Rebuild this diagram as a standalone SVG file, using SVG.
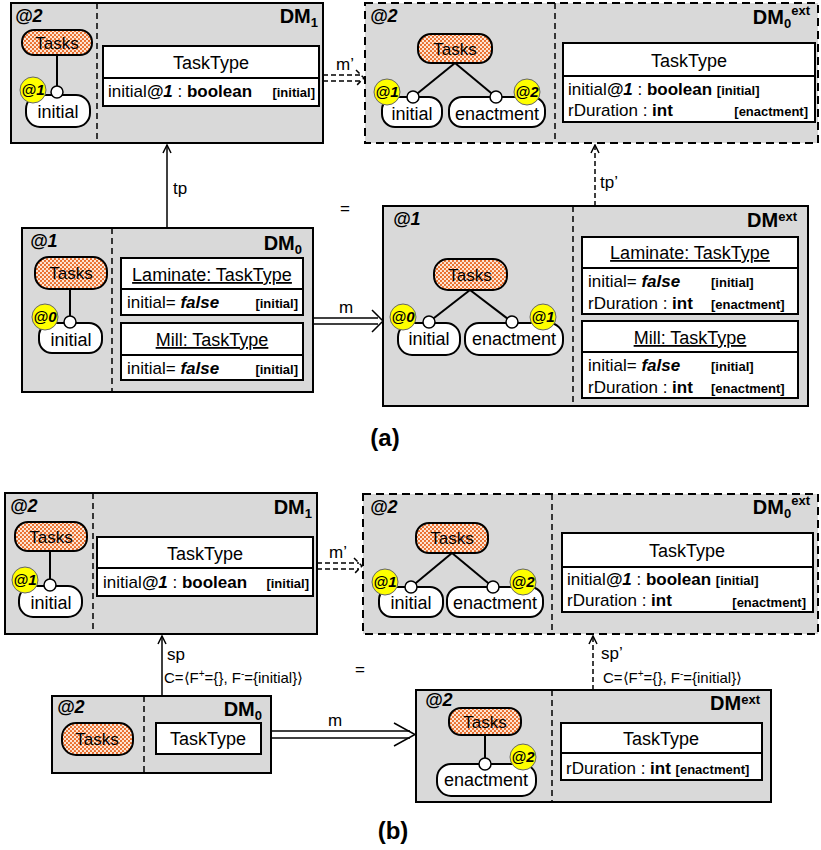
<svg xmlns="http://www.w3.org/2000/svg" width="821" height="850" viewBox="0 0 821 850">
<defs>
<pattern id="dots" width="4" height="4" patternUnits="userSpaceOnUse">
<rect width="4" height="4" fill="#fde6d6"/>
<circle cx="1" cy="1" r="1.1" fill="#e8641e"/>
<circle cx="3" cy="3" r="1.1" fill="#e8641e"/>
</pattern>
<marker id="arr" viewBox="0 0 10 10" refX="9" refY="5" markerWidth="10" markerHeight="10" markerUnits="userSpaceOnUse" orient="auto">
<path d="M1,1 L9,5 L1,9" fill="none" stroke="#000" stroke-width="1.5"/>
</marker>
<style>
.box{fill:#d9d9d9;stroke:#000;stroke-width:2}
.dbox{fill:#d9d9d9;stroke:#000;stroke-width:2;stroke-dasharray:8 5}
.div{stroke:#000;stroke-width:1.5;stroke-dasharray:6 4;fill:none}
.cls{fill:#fff;stroke:#000;stroke-width:2}
.ln{stroke:#000;stroke-width:2;fill:none}
.tasks{fill:url(#dots);stroke:#000;stroke-width:2}
.pill{fill:#fff;stroke:#000;stroke-width:2}
.port{fill:#fff;stroke:#000;stroke-width:1.5}
.ann{fill:#ffff00;stroke:#666;stroke-width:1}
.edge{stroke:#000;stroke-width:2;fill:none}
.conn{stroke:#000;stroke-width:1.5;fill:none}
.dconn{stroke:#000;stroke-width:1.5;fill:none;stroke-dasharray:5 3}
text{font-family:"Liberation Sans",Arial,sans-serif;fill:#000}
.lvl{font-size:18px;font-weight:bold;font-style:italic}
.dm{font-size:20px;font-weight:bold}
.tk{font-size:17px;text-anchor:middle}
.nd{font-size:18px;text-anchor:middle}
.ct{font-size:18px;text-anchor:middle}
.at{font-size:17px}
.tag{font-size:13px;font-weight:bold}
.an{font-size:15px;font-weight:bold;font-style:italic;text-anchor:middle}
.lb{font-size:17px}
.cl{font-size:15px}
.cap{font-size:24px;font-weight:bold;text-anchor:middle}
</style>
</defs>

<!-- ================= Panel (a) ================= -->
<g id="a-DM1">
<rect class="box" x="11" y="3" width="312" height="140"/>
<line class="div" x1="97" y1="3" x2="97" y2="143"/>
<text class="lvl" x="15" y="22">@2</text>
<text class="dm" x="318" y="23" text-anchor="end">DM<tspan font-size="13" dy="4">1</tspan></text>
<g id="a-DM1-tasks"><rect class="tasks" x="22" y="30" width="70" height="25" rx="12"/><text class="tk" x="57" y="49">Tasks</text></g>
<g id="a-DM1-initial"><rect class="pill" x="26" y="95" width="64" height="32" rx="14"/><text class="nd" x="58" y="118">initial</text><circle class="port" cx="57" cy="92" r="6"/><circle class="ann" cx="33" cy="90" r="13"/><text class="an" x="33" y="95">@1</text></g>
<g id="a-DM1-TaskType"><rect class="cls" x="103" y="46" width="216" height="60"/><line class="ln" x1="103" y1="78" x2="319" y2="78"/>
<text class="ct" x="211" y="69">TaskType</text>
<text class="at" x="108" y="97">initial<tspan font-weight="bold" font-style="italic">@1</tspan>  : <tspan font-weight="bold">boolean</tspan></text>
<text class="tag" x="315" y="97" text-anchor="end">[initial]</text></g>
</g>

<g id="a-DM0ext">
<rect class="dbox" x="365" y="3" width="453" height="140"/>
<line class="div" x1="555" y1="3" x2="555" y2="143"/>
<text class="lvl" x="370" y="22">@2</text>
<text class="dm" x="810" y="24" text-anchor="end">DM<tspan font-size="13" dy="4">0</tspan><tspan font-size="13" dy="-13">ext</tspan></text>
<g id="a-DM0ext-tasks"><rect class="tasks" x="418" y="34" width="74" height="29" rx="13"/><text class="tk" x="455" y="55">Tasks</text></g>
<g id="a-DM0ext-initial"><rect class="pill" x="382" y="97" width="60" height="30" rx="13"/><text class="nd" x="412" y="120">initial</text><circle class="port" cx="413" cy="97" r="6"/><circle class="ann" cx="387" cy="92" r="13"/><text class="an" x="387" y="97">@1</text></g>
<g id="a-DM0ext-enactment"><rect class="pill" x="449" y="97" width="96" height="30" rx="13"/><text class="nd" x="497" y="120">enactment</text><circle class="port" cx="496" cy="97" r="6"/><circle class="ann" cx="527" cy="92" r="13"/><text class="an" x="527" y="97">@2</text></g>
<g id="a-DM0ext-TaskType"><rect class="cls" x="563" y="43" width="252" height="79"/><line class="ln" x1="563" y1="76" x2="815" y2="76"/>
<text class="ct" x="689" y="67">TaskType</text>
<text class="at" x="568" y="95">initial<tspan font-weight="bold" font-style="italic">@1</tspan>  : <tspan font-weight="bold">boolean</tspan> <tspan class="tag">[initial]</tspan></text>
<text class="at" x="568" y="116">rDuration : <tspan font-weight="bold">int</tspan></text>
<text class="tag" x="808" y="116" text-anchor="end">[enactment]</text></g>
</g>

<g id="a-DM0">
<rect class="box" x="22" y="228" width="291" height="164"/>
<line class="div" x1="112" y1="228" x2="112" y2="392"/>
<text class="lvl" x="30" y="247">@1</text>
<text class="dm" x="302" y="250" text-anchor="end">DM<tspan font-size="13" dy="4">0</tspan></text>
<g id="a-DM0-tasks"><rect class="tasks" x="35" y="257" width="72" height="32" rx="14"/><text class="tk" x="71" y="279">Tasks</text></g>
<g id="a-DM0-initial"><rect class="pill" x="39" y="323" width="63" height="30" rx="13"/><text class="nd" x="71" y="346">initial</text><circle class="port" cx="70" cy="322" r="6"/><circle class="ann" cx="45" cy="317" r="13"/><text class="an" x="45" y="322">@0</text></g>
<g id="a-DM0-Laminate"><rect class="cls" x="121" y="258" width="182" height="57"/><line class="ln" x1="121" y1="289" x2="303" y2="289"/>
<text class="ct" x="212" y="281" text-decoration="underline">Laminate: TaskType</text>
<text class="at" x="127" y="308">initial= <tspan font-weight="bold" font-style="italic">false</tspan></text>
<text class="tag" x="298" y="308" text-anchor="end">[initial]</text></g>
<g id="a-DM0-Mill"><rect class="cls" x="121" y="323" width="182" height="57"/><line class="ln" x1="121" y1="355" x2="303" y2="355"/>
<text class="ct" x="212" y="346" text-decoration="underline">Mill: TaskType</text>
<text class="at" x="127" y="374">initial= <tspan font-weight="bold" font-style="italic">false</tspan></text>
<text class="tag" x="298" y="374" text-anchor="end">[initial]</text></g>
</g>

<g id="a-DMext">
<rect class="box" x="383" y="206" width="425" height="200"/>
<line class="div" x1="573" y1="206" x2="573" y2="406"/>
<text class="lvl" x="393" y="225">@1</text>
<text class="dm" x="797" y="227" text-anchor="end">DM<tspan font-size="13" dy="-6">ext</tspan></text>
<g id="a-DMext-tasks"><rect class="tasks" x="434" y="259" width="73" height="31" rx="14"/><text class="tk" x="470" y="281">Tasks</text></g>
<g id="a-DMext-initial"><rect class="pill" x="398" y="323" width="62" height="32" rx="14"/><text class="nd" x="429" y="345">initial</text><circle class="port" cx="429" cy="322" r="6"/><circle class="ann" cx="403" cy="317" r="13"/><text class="an" x="403" y="322">@0</text></g>
<g id="a-DMext-enactment"><rect class="pill" x="465" y="323" width="98" height="32" rx="14"/><text class="nd" x="514" y="345">enactment</text><circle class="port" cx="512" cy="322" r="6"/><circle class="ann" cx="543" cy="317" r="13"/><text class="an" x="543" y="322">@1</text></g>
<g id="a-DMext-Laminate"><rect class="cls" x="582" y="237" width="216" height="77"/><line class="ln" x1="582" y1="268" x2="798" y2="268"/>
<text class="ct" x="690" y="259" text-decoration="underline">Laminate: TaskType</text>
<text class="at" x="588" y="287">initial= <tspan font-weight="bold" font-style="italic">false</tspan></text>
<text class="tag" x="711" y="287">[initial]</text>
<text class="at" x="588" y="309">rDuration : <tspan font-weight="bold">int</tspan></text>
<text class="tag" x="711" y="309">[enactment]</text></g>
<g id="a-DMext-Mill"><rect class="cls" x="582" y="321" width="216" height="77"/><line class="ln" x1="582" y1="352" x2="798" y2="352"/>
<text class="ct" x="690" y="344" text-decoration="underline">Mill: TaskType</text>
<text class="at" x="588" y="371">initial= <tspan font-weight="bold" font-style="italic">false</tspan></text>
<text class="tag" x="711" y="371">[initial]</text>
<text class="at" x="588" y="393">rDuration : <tspan font-weight="bold">int</tspan></text>
<text class="tag" x="711" y="393">[enactment]</text></g>
</g>

<text class="cap" x="385" y="446">(a)</text>

<!-- ================= Panel (b) ================= -->
<g id="b-DM1">
<rect class="box" x="5" y="493" width="312" height="141"/>
<line class="div" x1="93" y1="493" x2="93" y2="634"/>
<text class="lvl" x="10" y="512">@2</text>
<text class="dm" x="312" y="514" text-anchor="end">DM<tspan font-size="13" dy="4">1</tspan></text>
<g id="b-DM1-tasks"><rect class="tasks" x="15" y="522" width="72" height="29" rx="13"/><text class="tk" x="51" y="543">Tasks</text></g>
<g id="b-DM1-initial"><rect class="pill" x="19" y="586" width="63" height="31" rx="14"/><text class="nd" x="51" y="609">initial</text><circle class="port" cx="50" cy="585" r="6"/><circle class="ann" cx="25" cy="580" r="13"/><text class="an" x="25" y="585">@1</text></g>
<g id="b-DM1-TaskType"><rect class="cls" x="97" y="537" width="216" height="59"/><line class="ln" x1="97" y1="568" x2="313" y2="568"/>
<text class="ct" x="205" y="560">TaskType</text>
<text class="at" x="103" y="588">initial<tspan font-weight="bold" font-style="italic">@1</tspan>  : <tspan font-weight="bold">boolean</tspan></text>
<text class="tag" x="309" y="588" text-anchor="end">[initial]</text></g>
</g>

<g id="b-DM0ext">
<rect class="dbox" x="363" y="494" width="455" height="140"/>
<line class="div" x1="552" y1="494" x2="552" y2="634"/>
<text class="lvl" x="370" y="513">@2</text>
<text class="dm" x="810" y="514" text-anchor="end">DM<tspan font-size="13" dy="4">0</tspan><tspan font-size="13" dy="-13">ext</tspan></text>
<g id="b-DM0ext-tasks"><rect class="tasks" x="416" y="523" width="72" height="30" rx="13"/><text class="tk" x="452" y="544">Tasks</text></g>
<g id="b-DM0ext-initial"><rect class="pill" x="379" y="587" width="64" height="30" rx="13"/><text class="nd" x="411" y="609">initial</text><circle class="port" cx="411" cy="587" r="6"/><circle class="ann" cx="385" cy="582" r="13"/><text class="an" x="385" y="587">@1</text></g>
<g id="b-DM0ext-enactment"><rect class="pill" x="447" y="587" width="96" height="30" rx="13"/><text class="nd" x="495" y="609">enactment</text><circle class="port" cx="493" cy="587" r="6"/><circle class="ann" cx="523" cy="582" r="13"/><text class="an" x="523" y="587">@2</text></g>
<g id="b-DM0ext-TaskType"><rect class="cls" x="562" y="533" width="251" height="79"/><line class="ln" x1="562" y1="567" x2="813" y2="567"/>
<text class="ct" x="687" y="557">TaskType</text>
<text class="at" x="567" y="585">initial<tspan font-weight="bold" font-style="italic">@1</tspan>  : <tspan font-weight="bold">boolean</tspan> <tspan class="tag">[initial]</tspan></text>
<text class="at" x="567" y="606">rDuration : <tspan font-weight="bold">int</tspan></text>
<text class="tag" x="806" y="607" text-anchor="end">[enactment]</text></g>
</g>

<g id="b-DM0">
<rect class="box" x="52" y="696" width="219" height="77"/>
<line class="div" x1="144" y1="696" x2="144" y2="773"/>
<text class="lvl" x="57" y="713">@2</text>
<text class="dm" x="262" y="716" text-anchor="end">DM<tspan font-size="13" dy="4">0</tspan></text>
<g id="b-DM0-tasks"><rect class="tasks" x="62" y="723" width="71" height="32" rx="14"/><text class="tk" x="97" y="745">Tasks</text></g>
<g id="b-DM0-TaskType"><rect class="cls" x="156" y="723" width="105" height="31"/><text class="ct" x="208" y="745">TaskType</text></g>
</g>

<g id="b-DMext">
<rect class="box" x="416" y="690" width="355" height="112"/>
<line class="div" x1="552" y1="690" x2="552" y2="802"/>
<text class="lvl" x="425" y="706">@2</text>
<text class="dm" x="760" y="710" text-anchor="end">DM<tspan font-size="13" dy="-6">ext</tspan></text>
<g id="b-DMext-tasks"><rect class="tasks" x="449" y="708" width="72" height="27" rx="12"/><text class="tk" x="485" y="728">Tasks</text></g>
<g id="b-DMext-enactment"><rect class="pill" x="437" y="764" width="99" height="32" rx="14"/><text class="nd" x="486" y="786">enactment</text><circle class="port" cx="485" cy="764" r="6"/><circle class="ann" cx="523" cy="757" r="13"/><text class="an" x="523" y="762">@2</text></g>
<g id="b-DMext-TaskType"><rect class="cls" x="561" y="723" width="201" height="57"/><line class="ln" x1="561" y1="753" x2="762" y2="753"/>
<text class="ct" x="661" y="745">TaskType</text>
<text class="at" x="566" y="774">rDuration : <tspan font-weight="bold">int</tspan> <tspan class="tag">[enactment]</tspan></text></g>
</g>

<text class="cap" x="393" y="839">(b)</text>

<!-- ================= Connectors ================= -->
<g id="connectors">
<!-- inner edges (a) -->
<line class="edge" x1="57" y1="55" x2="57" y2="86"/>
<line class="edge" x1="455" y1="63" x2="417.7" y2="93.2"/>
<line class="edge" x1="455" y1="63" x2="491.4" y2="93.2"/>
<line class="edge" x1="70" y1="289" x2="70" y2="316"/>
<line class="edge" x1="470" y1="290" x2="433.7" y2="318.3"/>
<line class="edge" x1="470" y1="290" x2="507.2" y2="318.4"/>
<!-- inner edges (b) -->
<line class="edge" x1="50" y1="551" x2="50" y2="579"/>
<line class="edge" x1="452" y1="553" x2="415.6" y2="583.2"/>
<line class="edge" x1="452" y1="553" x2="488.4" y2="583.2"/>
<line class="edge" x1="485" y1="735" x2="485" y2="758"/>

<!-- (a) tp -->
<line class="conn" x1="167" y1="228" x2="167" y2="145" marker-end="url(#arr)"/>
<text class="lb" x="173" y="194">tp</text>
<!-- (a) tp' -->
<line class="dconn" x1="595" y1="206" x2="595" y2="145" marker-end="url(#arr)"/>
<text class="lb" x="600" y="188">tp’</text>
<!-- (a) m -->
<line class="conn" x1="313" y1="318" x2="378" y2="318"/>
<line class="conn" x1="313" y1="324" x2="378" y2="324"/>
<polyline class="conn" points="372,310 383,321 372,332"/>
<text class="lb" x="346" y="313" text-anchor="middle">m</text>
<!-- (a) m' -->
<line class="dconn" x1="323" y1="75" x2="361" y2="75"/>
<line class="dconn" x1="323" y1="81" x2="361" y2="81"/>
<polyline class="dconn" points="356,70 364,78 356,86"/>
<text class="lb" x="345" y="70" text-anchor="middle">m’</text>
<text class="lb" x="345" y="214" text-anchor="middle">=</text>

<!-- (b) sp -->
<line class="conn" x1="162" y1="696" x2="162" y2="636" marker-end="url(#arr)"/>
<text class="lb" x="167" y="660">sp</text>
<text class="cl" x="164" y="683">C=⟨F<tspan font-size="10" dy="-6">+</tspan><tspan dy="6">={}, F</tspan><tspan font-size="10" dy="-6">-</tspan><tspan dy="6">={initial}⟩</tspan></text>
<!-- (b) sp' -->
<line class="dconn" x1="593" y1="690" x2="593" y2="636" marker-end="url(#arr)"/>
<text class="lb" x="601" y="659">sp’</text>
<text class="cl" x="603" y="683">C=⟨F<tspan font-size="10" dy="-6">+</tspan><tspan dy="6">={}, F</tspan><tspan font-size="10" dy="-6">-</tspan><tspan dy="6">={initial}⟩</tspan></text>
<!-- (b) m -->
<line class="conn" x1="271" y1="731" x2="410" y2="731"/>
<line class="conn" x1="271" y1="738" x2="410" y2="738"/>
<polyline class="conn" points="394,723 415,734.5 394,746"/>
<text class="lb" x="335" y="726" text-anchor="middle">m</text>
<!-- (b) m' -->
<line class="dconn" x1="317" y1="563" x2="359" y2="563"/>
<line class="dconn" x1="317" y1="569" x2="359" y2="569"/>
<polyline class="dconn" points="354,558 362,566 354,574"/>
<text class="lb" x="338" y="558" text-anchor="middle">m’</text>
<text class="lb" x="360" y="675" text-anchor="middle">=</text>
</g>
</svg>
